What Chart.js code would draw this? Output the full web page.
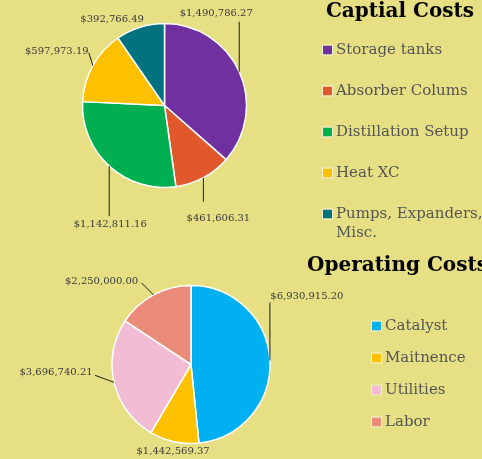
<!DOCTYPE html>
<html lang="en">
  <head>
    <meta charset="UTF-8" />
    <title>Captial and Operating Costs</title>
    <script src="https://cdn.jsdelivr.net/npm/chart.js@4.4.1/dist/chart.umd.min.js"></script>
    <style>
      html,
      body {
        margin: 0;
        padding: 0;
        background-color: #e6df84;
      }
      .pie-box {
        position: absolute;
        left: 0;
        top: 0;
        width: 482px;
        height: 459px;
      }
    </style>
  </head>
  <body>
    <div class="pie-box"><canvas id="capitalChart"></canvas></div>
    <div class="pie-box"><canvas id="operatingChart"></canvas></div>

    <script>
      // Capital costs
      const capitalLabels = ["Storage tanks", "Absorber Colums", "Distillation Setup", "Heat XC", "Pumps, Expanders, Misc."];
      const capitalValues = [1490786.27, 461606.31, 1142811.16, 597973.19, 392766.49];
      const capitalColors = ["#7030a0", "#e0582b", "#00b050", "#ffc000", "#00717f"];

      // Operating costs
      const operatingLabels = ["Catalyst", "Maitnence", "Utilities", "Labor"];
      const operatingValues = [6930915.2, 1442569.37, 3696740.21, 2250000.0];
      const operatingColors = ["#00b0f0", "#ffc000", "#f2bcd4", "#ea8a78"];

      const money = (v) =>
        "$" + v.toLocaleString("en-US", { minimumFractionDigits: 2, maximumFractionDigits: 2 });

      // value labels with leader lines, anchored on the middle of each slice edge
      const pieLabels = {
        id: "pieLabels",
        afterDatasetsDraw(chart, args, opts) {
          const ctx = chart.ctx;
          const meta = chart.getDatasetMeta(0);
          const values = chart.data.datasets[0].data;
          ctx.save();
          ctx.font = opts.font;
          ctx.fillStyle = opts.color;
          ctx.strokeStyle = opts.lineColor;
          ctx.lineWidth = 1;
          ctx.textAlign = "center";
          ctx.textBaseline = "middle";
          meta.data.forEach((arc, i) => {
            const mid = (arc.startAngle + arc.endAngle) / 2;
            const ax = arc.x + Math.cos(mid) * arc.outerRadius;
            const ay = arc.y + Math.sin(mid) * arc.outerRadius;
            const place = opts.placement[i];
            if (place.line) {
              ctx.beginPath();
              ctx.moveTo(ax, ay);
              ctx.lineTo(ax + place.line[0], ay + place.line[1]);
              ctx.stroke();
            }
            ctx.fillText(money(values[i]), ax + place.text[0], ay + place.text[1]);
          });
          ctx.restore();
        },
      };

      // legend at the side with a heading, wraps long names
      const sideLegend = {
        id: "sideLegend",
        afterDraw(chart, args, opts) {
          const ctx = chart.ctx;
          const labels = chart.data.labels;
          const colors = chart.data.datasets[0].backgroundColor;
          ctx.save();
          ctx.font = "bold 20px 'DejaVu Serif'";
          ctx.fillStyle = "#000000";
          ctx.textAlign = opts.titleAlign;
          ctx.textBaseline = "middle";
          ctx.fillText(opts.title, opts.titleX, opts.titleY);

          ctx.font = "15px 'DejaVu Serif'";
          ctx.textAlign = "left";
          labels.forEach((label, i) => {
            const y = opts.y + i * opts.gap;
            ctx.fillStyle = colors[i];
            ctx.fillRect(opts.x, y - 4.5, 9, 9);
            ctx.strokeStyle = "#f4f1d0";
            ctx.lineWidth = 1;
            ctx.strokeRect(opts.x - 0.5, y - 5, 10, 10);

            // simple word wrap
            const words = label.split(" ");
            const lines = [];
            let line = "";
            words.forEach((w) => {
              const test = line ? line + " " + w : w;
              if (line && ctx.measureText(test).width > opts.wrap) {
                lines.push(line);
                line = w;
              } else {
                line = test;
              }
            });
            lines.push(line);
            ctx.fillStyle = "#555555";
            lines.forEach((t, j) => ctx.fillText(t, opts.x + 13, y + j * 19));
          });
          ctx.restore();
        },
      };

      new Chart(document.getElementById("capitalChart"), {
        type: "pie",
        data: {
          labels: capitalLabels,
          datasets: [
            {
              data: capitalValues,
              backgroundColor: capitalColors,
              borderColor: "#ffffff",
              borderWidth: 1.5,
              hoverOffset: 0,
            },
          ],
        },
        options: {
          responsive: true,
          maintainAspectRatio: false,
          animation: false,
          events: [],
          radius: 82,
          layout: { padding: { left: 82.5, right: 235.5, top: 23.5, bottom: 271.5 } },
          plugins: {
            legend: { display: false },
            tooltip: { enabled: false },
            pieLabels: {
              font: "10px 'DejaVu Serif'",
              color: "#3a3a3a",
              lineColor: "#1e1e1e",
              placement: [
                { text: [-23, -58], line: [0, -50] },
                { text: [15, 41], line: [0, 24] },
                { text: [1, 58], line: [0, 50] },
                { text: [-36, -14], line: [-4, -13] },
                { text: [-28, -8], line: null },
              ],
            },
            sideLegend: {
              title: "Captial Costs",
              titleAlign: "center",
              titleX: 400,
              titleY: 12,
              x: 323,
              y: 50,
              gap: 41,
              wrap: 150,
            },
          },
        },
        plugins: [pieLabels, sideLegend],
      });

      new Chart(document.getElementById("operatingChart"), {
        type: "pie",
        data: {
          labels: operatingLabels,
          datasets: [
            {
              data: operatingValues,
              backgroundColor: operatingColors,
              borderColor: "#ffffff",
              borderWidth: 1.5,
              hoverOffset: 0,
            },
          ],
        },
        options: {
          responsive: true,
          maintainAspectRatio: false,
          animation: false,
          events: [],
          radius: 79,
          layout: { padding: { left: 112, right: 212, top: 285.5, bottom: 15.5 } },
          plugins: {
            legend: { display: false },
            tooltip: { enabled: false },
            pieLabels: {
              font: "10px 'DejaVu Serif'",
              color: "#3a3a3a",
              lineColor: "#1e1e1e",
              placement: [
                { text: [37, -64], line: [0, -58] },
                { text: [-1, 10], line: null },
                { text: [-58, -10], line: [-19, -7] },
                { text: [-52, -14], line: [-12, -12] },
              ],
            },
            sideLegend: {
              title: "Operating Costs",
              titleAlign: "left",
              titleX: 307,
              titleY: 266,
              x: 372,
              y: 326,
              gap: 32,
              wrap: 150,
            },
          },
        },
        plugins: [pieLabels, sideLegend],
      });
    </script>
  </body>
</html>
